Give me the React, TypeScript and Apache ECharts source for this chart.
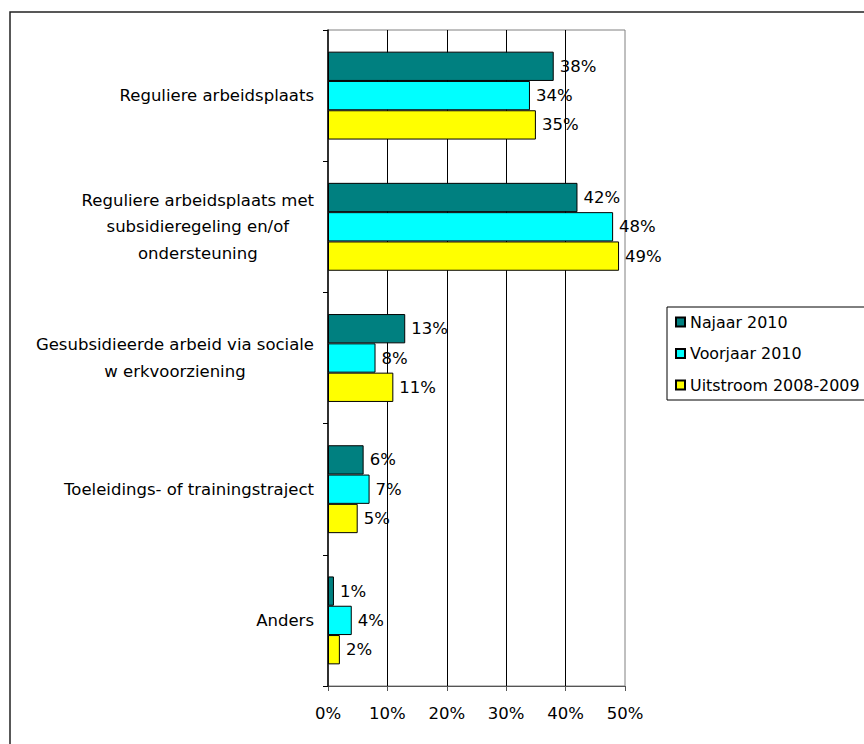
import React, { useEffect, useRef } from "react";
import * as echarts from "echarts";

const categories = [
  "Reguliere arbeidsplaats",
  "Reguliere arbeidsplaats met\nsubsidieregeling en/of\nondersteuning",
  "Gesubsidieerde arbeid via sociale\nw erkvoorziening",
  "Toeleidings- of trainingstraject",
  "Anders",
];
const seriesNames = ["Najaar 2010", "Voorjaar 2010", "Uitstroom 2008-2009"];
const najaar2010 = [38, 42, 13, 6, 1];
const voorjaar2010 = [34, 48, 8, 7, 4];
const uitstroom = [35, 49, 11, 5, 2];
const seriesColors = ["#008080", "#00FFFF", "#FFFF00"];
const xTicks = { min: 0, max: 50, interval: 10 };

const FONT = "'DejaVu Sans', Verdana, sans-serif";
const FS = 16.5;

export default function App() {
  const ref = useRef<HTMLDivElement>(null);
  useEffect(() => {
    if (!ref.current) return;
    const chart = echarts.init(ref.current, undefined, { renderer: "svg" });
    const values = [najaar2010, voorjaar2010, uitstroom];
    chart.setOption({
      animation: false,
      backgroundColor: "#ffffff",
      textStyle: { fontFamily: FONT, color: "#000" },
      graphic: [
        {
          type: "rect",
          shape: { x: 10, y: 12, width: 900, height: 800 },
          style: { fill: "none", stroke: "#222", lineWidth: 1.5 },
          z: 0,
        },
      ],
      grid: {
        left: 328,
        top: 30,
        right: 239,
        bottom: 58,
        show: true,
        borderColor: "#808080",
        borderWidth: 1,
        backgroundColor: "transparent",
      },
      legend: {
        orient: "vertical",
        left: 667,
        top: 307,
        padding: [6, 8, 6, 8],
        itemWidth: 9,
        itemHeight: 9,
        itemGap: 13.5,
        borderColor: "#000",
        borderWidth: 1,
        icon: "rect",
        data: seriesNames,
        textStyle: { fontFamily: FONT, fontSize: 15.9, color: "#000", lineHeight: 18 },
      },
      xAxis: {
        type: "value",
        min: xTicks.min,
        max: xTicks.max,
        interval: xTicks.interval,
        axisLine: { show: true, lineStyle: { color: "#555", width: 1 } },
        axisTick: { show: true, length: 5, lineStyle: { color: "#555" } },
        axisLabel: {
          formatter: "{value}%",
          fontFamily: FONT,
          fontSize: FS,
          color: "#000",
          margin: 19,
        },
        splitLine: {
          show: true,
          showMinLine: false,
          showMaxLine: false,
          lineStyle: { color: "#000", width: 1 },
        },
      },
      yAxis: {
        type: "category",
        inverse: true,
        data: categories,
        axisLine: { show: true, lineStyle: { color: "#000", width: 1.5 } },
        axisTick: { show: true, length: 5, lineStyle: { color: "#000" } },
        axisLabel: {
          margin: 14,
          formatter: (v: string) =>
            v
              .split("\n")
              .map((l) => "{c|" + l + "}")
              .join("\n"),
          rich: {
            c: {
              align: "center",
              fontFamily: FONT,
              fontSize: FS,
              color: "#000",
              lineHeight: 26.5,
            },
          },
        },
        splitLine: { show: false },
        z: 10,
      },
      series: seriesNames.map((name, i) => ({
        name,
        type: "bar",
        data: values[i],
        barGap: "0%",
        barCategoryGap: "33%",
        itemStyle: { color: seriesColors[i], borderColor: "#000", borderWidth: 1 },
        label: {
          show: true,
          position: "right",
          distance: 6,
          formatter: "{c}%",
          fontFamily: FONT,
          fontSize: FS,
          color: "#000",
        },
      })),
    });
    return () => chart.dispose();
  }, []);
  return (
    <div
      ref={ref}
      style={{ position: "fixed", left: 0, top: 0, width: 864, height: 744 }}
    />
  );
}
